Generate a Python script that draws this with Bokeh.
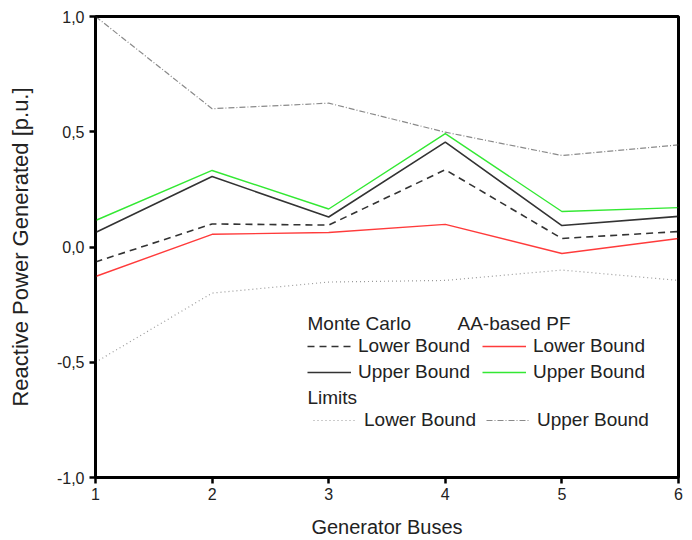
from bokeh.plotting import figure
from bokeh.models import (Range1d, FixedTicker, CustomJSTickFormatter, Legend,
                          LegendItem, Label, Span)
from bokeh.embed import file_html
from bokeh.resources import INLINE

# Generator buses and reactive power bounds [p.u.]
buses = [1, 2, 3, 4, 5, 6]
mc_lower = [-0.065, 0.100, 0.095, 0.335, 0.037, 0.067]
mc_upper = [0.063, 0.306, 0.130, 0.455, 0.093, 0.133]
aa_lower = [-0.128, 0.055, 0.063, 0.098, -0.028, 0.037]
aa_upper = [0.115, 0.332, 0.165, 0.492, 0.154, 0.171]
q_min = [-0.50, -0.20, -0.152, -0.145, -0.100, -0.145]
q_max = [1.00, 0.60, 0.624, 0.498, 0.397, 0.443]

x_ticks = [1, 2, 3, 4, 5, 6]
x_tick_labels = ["1", "2", "3", "4", "5", "6"]
y_ticks = [-1.0, -0.5, 0.0, 0.5, 1.0]
y_tick_labels = ["-1,0", "-0,5", "0,0", "0,5", "1,0"]
x_min, x_max = 1, 6
y_min, y_max = -1.0, 1.0

FONT = "Liberation Sans"
TXT = "#222222"

p = figure(width=692, height=540, output_backend="svg", toolbar_location=None,
           x_range=Range1d(x_min, x_max), y_range=Range1d(y_min, y_max),
           min_border_left=95, min_border_right=14, min_border_top=16,
           min_border_bottom=63)
p.grid.visible = False
p.background_fill_color = "white"
p.border_fill_color = "white"
p.outline_line_color = "black"
p.outline_line_width = 3
p.outline_line_alpha = 1.0

tick_fmt = ("const i = tvals.findIndex(t => Math.abs(t - tick) < 1e-9);"
            " return i >= 0 ? tlabels[i] : '';")
p.xaxis.ticker = FixedTicker(ticks=x_ticks)
p.xaxis.formatter = CustomJSTickFormatter(args=dict(tvals=x_ticks, tlabels=x_tick_labels), code=tick_fmt)
p.yaxis.ticker = FixedTicker(ticks=y_ticks)
p.yaxis.formatter = CustomJSTickFormatter(args=dict(tvals=y_ticks, tlabels=y_tick_labels), code=tick_fmt)

for ax in (p.xaxis, p.yaxis):
    ax.axis_line_width = 2.5
    ax.axis_line_color = "black"
    ax.major_tick_line_width = 2.5
    ax.major_tick_line_color = "black"
    ax.major_tick_out = 6
    ax.major_tick_in = 0
    ax.minor_tick_line_color = None
    ax.major_label_text_font = FONT
    ax.major_label_text_font_size = "16px"
    ax.major_label_text_color = TXT
    ax.axis_label_text_font = FONT
    ax.axis_label_text_font_style = "normal"
    ax.axis_label_text_color = TXT

p.xaxis.axis_label = "Generator Buses"
p.xaxis.axis_label_text_font_size = "20px"
p.xaxis.major_label_standoff = 4
p.xaxis.axis_label_standoff = 13

p.yaxis.axis_label = "Reactive Power Generated [p.u.]"
p.yaxis.axis_label_text_font_size = "22px"
p.yaxis.major_label_standoff = 5
p.yaxis.axis_label_standoff = 21

# Frame box: heavy top and right edges
p.add_layout(Span(location=y_max, dimension="width", line_color="black", line_width=2.5))
p.add_layout(Span(location=x_max, dimension="height", line_color="black", line_width=2.5))

# Data lines
r_qmax = p.line(buses, q_max, line_color="#8a8a8a", line_width=1.2, line_dash="6 2 1 2")
r_qmin = p.line(buses, q_min, line_color="#9a9a9a", line_width=1.2, line_dash="1 3")
r_mcl = p.line(buses, mc_lower, line_color="#333333", line_width=1.6, line_dash="7 5")
r_mcu = p.line(buses, mc_upper, line_color="#333333", line_width=1.6)
r_aal = p.line(buses, aa_lower, line_color="#ff3b3b", line_width=1.4)
r_aau = p.line(buses, aa_upper, line_color="#33e833", line_width=1.4)

# Legend: three blocks with separate headers
common = dict(glyph_width=44, glyph_height=20, label_height=20, label_standoff=7,
              spacing=4, padding=0, margin=0, border_line_alpha=0,
              background_fill_alpha=0, label_text_font=FONT,
              label_text_font_size="19px", label_text_color=TXT)

leg_mc = Legend(items=[LegendItem(label="Lower Bound", renderers=[r_mcl]),
                       LegendItem(label="Upper Bound", renderers=[r_mcu])],
                location=(212, 94), orientation="vertical", **common)
leg_aa = Legend(items=[LegendItem(label="Lower Bound", renderers=[r_aal]),
                       LegendItem(label="Upper Bound", renderers=[r_aau])],
                location=(387, 94), orientation="vertical", **common)
common_lim = dict(common)
common_lim["spacing"] = 10
leg_lim = Legend(items=[LegendItem(label="Lower Bound", renderers=[r_qmin]),
                        LegendItem(label="Upper Bound", renderers=[r_qmax])],
                 location=(218, 46), orientation="horizontal", **common_lim)
for leg in (leg_mc, leg_aa, leg_lim):
    p.add_layout(leg)

for txt, x, y in (("Monte Carlo", 212, 154), ("AA-based PF", 362, 154), ("Limits", 212, 80)):
    p.add_layout(Label(x=x, y=y, x_units="screen", y_units="screen", text=txt,
                       text_baseline="middle", text_font=FONT,
                       text_font_size="19px", text_color=TXT))

open("out.html", "w").write(file_html(p, INLINE))
